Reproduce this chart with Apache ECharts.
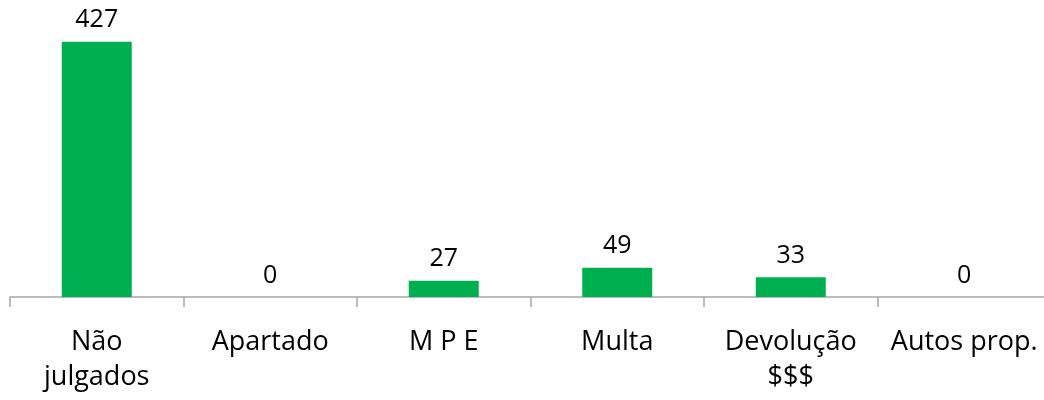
<!DOCTYPE html>
<html>
<head>
<meta charset="utf-8">
<script src="https://cdn.jsdelivr.net/npm/echarts@6/dist/echarts.min.js"></script>
<style>
  html, body { margin: 0; padding: 0; background: #ffffff; overflow: hidden; }
  #chart { width: 1056px; height: 400px; }
</style>
</head>
<body>
<div id="chart"></div>
<script>
var categories = ['Não\njulgados', 'Apartado', 'M P E', 'Multa', 'Devolução\n$$$', 'Autos prop.'];
var values = [427, 0, 27, 49, 33, 0];

var myChart = echarts.init(document.getElementById('chart'));
var option = {
    backgroundColor: '#ffffff',
    animation: false,
    grid: {
        left: 10,
        top: 28,
        width: 1041,
        height: 269
    },
    xAxis: {
        type: 'category',
        data: categories,
        axisLine: { lineStyle: { color: '#a6a6a6', width: 1.5 } },
        axisTick: { show: true, alignWithLabel: false, length: 10, lineStyle: { color: '#a6a6a6', width: 1.5 } },
        axisLabel: {
            color: '#000000',
            fontFamily: 'Open Sans',
            fontSize: 27,
            lineHeight: 35,
            margin: 28,
            interval: 0
        }
    },
    yAxis: {
        type: 'value',
        min: 0,
        max: 450,
        show: false,
        splitLine: { show: false }
    },
    series: [{
        type: 'bar',
        data: values,
        barWidth: 70,
        itemStyle: { color: '#00b050' },
        label: {
            show: true,
            position: 'top',
            distance: 9,
            color: '#000000',
            fontFamily: 'Open Sans',
            fontSize: 25
        }
    }]
};
myChart.setOption(option);
</script>
</body>
</html>
